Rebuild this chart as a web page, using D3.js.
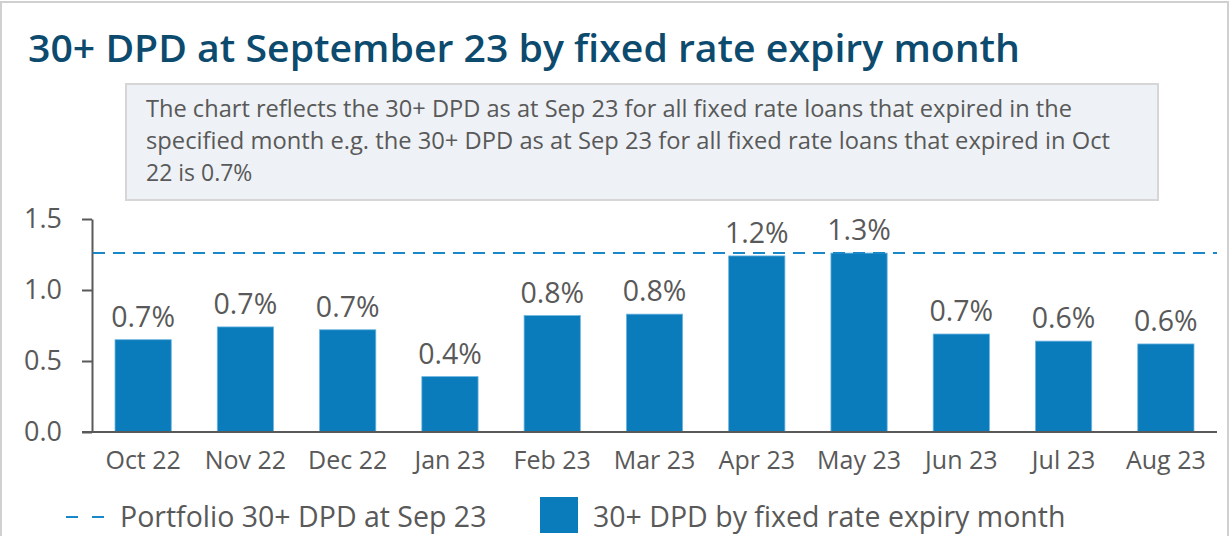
<!DOCTYPE html>
<html><head><meta charset="utf-8">
<script src="https://cdn.jsdelivr.net/npm/d3@7"></script>
<style>body{margin:0;background:#fff;}svg{display:block;font-family:"Open Sans","Noto Sans",sans-serif;}</style>
</head><body>
<svg id="c" width="1230" height="536"></svg>
<script>
const categories = ["Oct 22","Nov 22","Dec 22","Jan 23","Feb 23","Mar 23","Apr 23","May 23","Jun 23","Jul 23","Aug 23"];
const values = [0.65,0.74,0.72,0.39,0.82,0.83,1.24,1.26,0.69,0.64,0.62];
const labels = ["0.7%","0.7%","0.7%","0.4%","0.8%","0.8%","1.2%","1.3%","0.7%","0.6%","0.6%"];
const portfolio = 1.26;
const yTicks = [0,0.5,1.0,1.5];
const title = "30+ DPD at September 23 by fixed rate expiry month";
const note = ["The chart reflects the 30+ DPD as at Sep 23 for all fixed rate loans that expired in the",
 "specified month e.g. the 30+ DPD as at Sep 23 for all fixed rate loans that expired in Oct",
 "22 is 0.7%"];
const legendItems = ["Portfolio 30+ DPD at Sep 23","30+ DPD by fixed rate expiry month"];

const svg = d3.select("#c");
const blue = "#0a7bbb", txt = "#595959";
svg.append("rect").attr("x",1).attr("y",2).attr("width",1227).attr("height",540).attr("fill","none").attr("stroke","#d0d0d0").attr("stroke-width",2);
svg.append("text").attr("x",28).attr("y",62).attr("fill","#0c4a6e").attr("font-size",38).attr("font-weight",600)
 .attr("textLength",992).attr("lengthAdjust","spacingAndGlyphs").text(title);
svg.append("rect").attr("x",126).attr("y",84).attr("width",1032).attr("height",116).attr("fill","#eef2f6").attr("stroke","#d6d6d6").attr("stroke-width",2);
const noteLen = [926, 964, null];
note.forEach((l,i)=>{
  const t = svg.append("text").attr("x",146).attr("y",117+i*32).attr("fill",txt).attr("font-size",23).text(l);
  if (noteLen[i]) t.attr("textLength",noteLen[i]).attr("lengthAdjust","spacingAndGlyphs");
});

const x = d3.scaleBand().domain(categories).range([92,1217]).paddingInner(0.45).paddingOuter(0.225);
const y = d3.scaleLinear().domain([0,1.5]).range([432,219]);

const ya = svg.append("g").attr("transform","translate(92,0)").call(d3.axisLeft(y).tickValues(yTicks).tickFormat(d3.format(".1f")).tickSize(10).tickSizeOuter(0));
ya.select(".domain").attr("stroke",txt).attr("stroke-width",2);
ya.selectAll(".tick line").attr("stroke",txt).attr("stroke-width",2);
ya.selectAll(".tick text").attr("fill",txt).attr("font-size",27).attr("font-family","Open Sans").attr("x",-30);

svg.append("g").selectAll("rect").data(values).join("rect")
 .attr("x",(d,i)=>x(categories[i])).attr("width",x.bandwidth())
 .attr("y",d=>y(d)).attr("height",d=>y(0)-y(d)).attr("fill",blue).attr("stroke","#6fb6e0").attr("stroke-width",0.8);

const xa = svg.append("g").attr("transform","translate(0,432)").call(d3.axisBottom(x).tickSize(0).tickPadding(19));
xa.select(".domain").remove();
svg.append("line").attr("x1",82).attr("x2",1217).attr("y1",432).attr("y2",432).attr("stroke",txt).attr("stroke-width",2);
xa.selectAll(".tick text").attr("fill",txt).attr("font-size",25).attr("font-family","Open Sans").attr("dy","0.71em");

svg.append("line").attr("x1",93).attr("x2",1217).attr("y1",y(portfolio)).attr("y2",y(portfolio)).attr("stroke","#1a87c8").attr("stroke-width",2).attr("stroke-dasharray","12,8");

svg.append("g").selectAll("text").data(values).join("text")
 .attr("x",(d,i)=>x(categories[i])+x.bandwidth()/2).attr("y",d=>y(d)-13)
 .attr("text-anchor","middle").attr("fill",txt).attr("font-size",28.5).text((d,i)=>labels[i]);

svg.append("line").attr("x1",66).attr("x2",104).attr("y1",517).attr("y2",517).attr("stroke","#1a87c8").attr("stroke-width",2).attr("stroke-dasharray","12,14");
svg.append("text").attr("x",120).attr("y",527).attr("fill",txt).attr("font-size",28.5).text(legendItems[0]);
svg.append("rect").attr("x",540).attr("y",497).attr("width",38).attr("height",36).attr("fill",blue);
svg.append("text").attr("x",593).attr("y",527).attr("fill",txt).attr("font-size",28.5).text(legendItems[1]);
</script>
</body></html>
